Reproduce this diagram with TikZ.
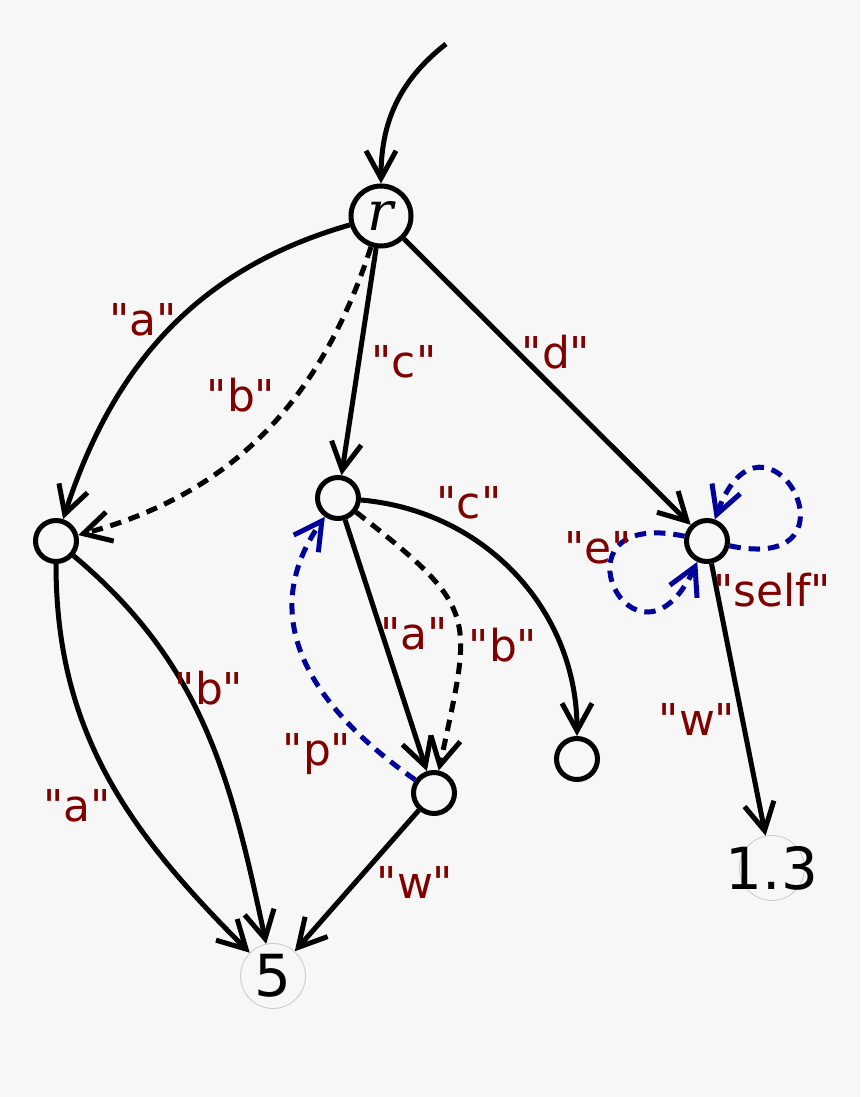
\documentclass[tikz,border=0pt]{standalone}
\usepackage{fontspec}
\setmainfont{DejaVu Sans}
\newfontfamily\labelfont{DejaVu Sans}
\newfontfamily\rootfont{DejaVu Serif}
\usepackage{tikz}
\usetikzlibrary{arrows.meta, backgrounds}
\definecolor{lblred}{RGB}{128,0,0}
\definecolor{loopblue}{RGB}{0,0,155}
\definecolor{bggray}{RGB}{247,247,247}

\begin{document}
\begin{tikzpicture}[
    >={Straight Barb[length=5.5mm,width=6mm]},
    state/.style={circle,draw,line width=2.85pt,minimum size=8.2mm,inner sep=0pt},
    leaf/.style={circle,draw=black!20,line width=0.5pt,minimum size=13mm,inner sep=0pt,font=\labelfont\fontsize{33}{36}\selectfont},
    edgeline/.style={->,line width=2.85pt},
    dashedge/.style={edgeline,dash pattern=on 6.5pt off 4.5pt},
    blueedge/.style={dashedge,draw=loopblue},
    lbl/.style={text=lblred,font=\labelfont\fontsize{25}{30}\selectfont}
]
    % Sfondo
    \fill[bggray] (0,0) rectangle (17.2,-21.94);
    \useasboundingbox (0,0) rectangle (17.2,-21.94);

    % Nodi
    \coordinate (start) at (8.92,-0.88);
    \node[state,minimum size=12mm,font=\rootfont\itshape\fontsize{31}{34}\selectfont] (r) at (7.62,-4.32) {r};
    \node[state] (A) at (1.12,-10.82) {};
    \node[state] (C) at (6.76,-9.96) {};
    \node[state] (D) at (14.14,-10.82) {};
    \node[state] (W) at (8.68,-15.86) {};
    \node[state] (CC) at (11.54,-15.18) {};
    \node[leaf] (five) at (5.46,-19.52) {\makebox[0pt]{5}};
    \node[leaf] (one3) at (15.44,-17.36) {\makebox[0pt]{1.3}};

    % Archi dalla radice
    \draw[edgeline] (start) to[out=218,in=90] (r);
    \draw[edgeline] (r) to[out=196,in=72] (A);
    \draw[dashedge] (r) to[out=252,in=15] (A);
    \draw[edgeline] (r) -- (C);
    \draw[edgeline] (r) -- (D);

    % Archi dal nodo centrale
    \draw[edgeline] (C) to[out=-5,in=90] (CC);
    \draw[edgeline] (C) -- (W);
    \draw[dashedge] (C) to[out=-38,in=78,looseness=1.5] (W);
    \draw[blueedge] (W) to[out=145,in=235,looseness=1.15] (C);
    \draw[edgeline] (W) -- (five);

    % Archi verso 5
    \draw[edgeline] (A) to[out=270,in=135] (five);
    \draw[edgeline] (A) to[out=-40,in=102] (five);

    % Anelli e arco verso 1.3
    \draw[blueedge] (D) to[out=168,in=245,min distance=2.9cm] (D);
    \draw[blueedge] (D) to[out=-12,in=70,min distance=2.9cm] (D);
    \draw[edgeline] (D) -- (one3);

    % Etichette
    \node[lbl] (la1) at (2.86,-6.40) {"a"};
    \node[lbl] (lb1) at (4.82,-7.90) {"b"};
    \node[lbl] (lc1) at (8.08,-7.24) {"c"};
    \node[lbl] (ld1) at (11.12,-7.04) {"d"};
    \node[lbl] (lc2) at (9.38,-10.06) {"c"};
    \node[lbl] (la2) at (8.28,-12.68) {"a"};
    \node[lbl] (lb2) at (10.06,-12.90) {"b"};
    \node[lbl] (lp) at (6.34,-15.08) {"p"};
    \node[lbl] (lw1) at (8.30,-17.64) {"w"};
    \node[lbl] (la3) at (1.54,-16.12) {"a"};
    \node[lbl] (lb3) at (4.18,-13.76) {"b"};
    \node[lbl] (le) at (11.96,-10.96) {"e"};
    \node[lbl] (lself) at (15.44,-11.80) {"self"};
    \node[lbl] (lw2) at (13.94,-14.38) {"w"};
\end{tikzpicture}
\end{document}
